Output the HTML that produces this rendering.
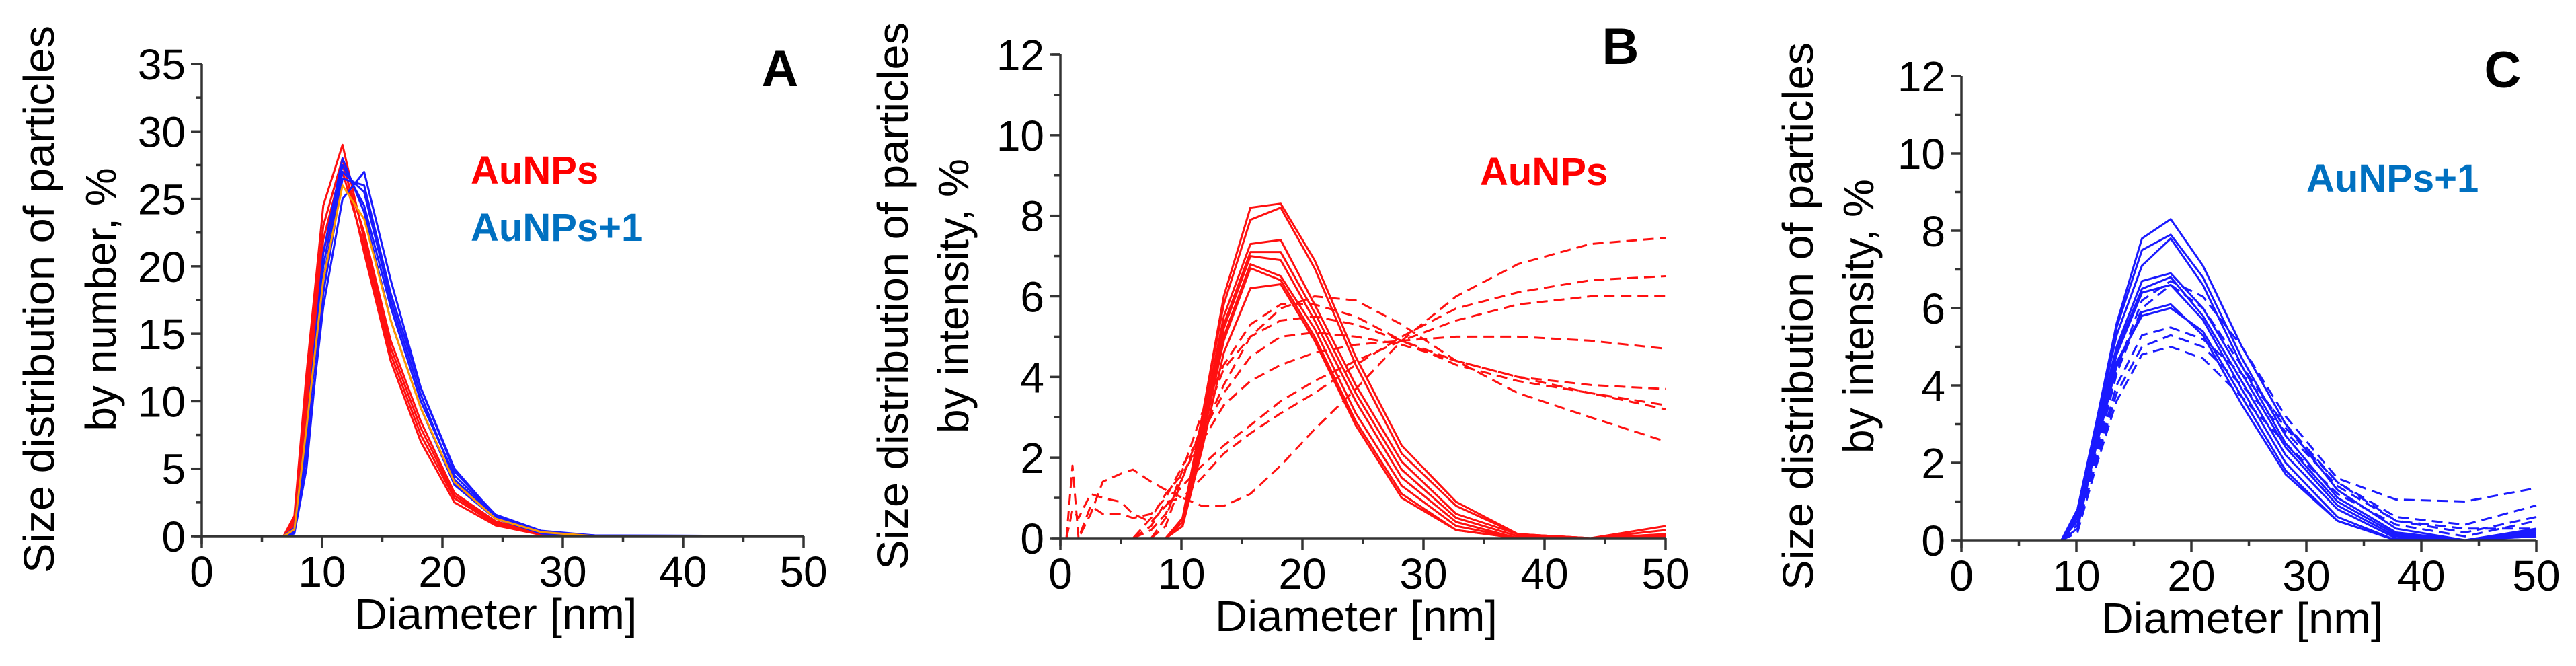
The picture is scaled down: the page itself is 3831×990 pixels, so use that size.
<!DOCTYPE html>
<html><head><meta charset="utf-8"><style>
html,body{margin:0;padding:0;background:#fff;}
svg{display:block;font-family:"Liberation Sans",Arial,sans-serif;}
</style></head><body>
<svg id="fig" width="3831" height="990" viewBox="0 0 3831 990" xmlns="http://www.w3.org/2000/svg"></svg>
<script>
// ---------- Panel A data (number distribution) ----------
const aX = [6.8,7.7,8.7,10.1,11.7,13.5,15.7,18.2,21,24.4,28.2,32.7,50];
const aRed1 = [0,1.5,12,24.5,29,22,14,8,3,1,0.2,0,0];
const aRed2 = [0,1.2,11,23,28,21,13,7,2.5,0.8,0.1,0,0];
const aRed3 = [0,1.0,10,22,27.5,22.5,14.5,8.5,3.2,1.1,0.2,0,0];
const aRed4 = [0,0.8,9,21,27,21.5,13.5,7.5,2.8,0.9,0.1,0,0];
const aOrange = [0,0.5,8,19,26,23.5,16,9.5,4,1.3,0.3,0,0];
const aBlue1 = [0,0.3,6,17,25,27,19,11,5,1.5,0.3,0.05,0];
const aBlue2 = [0,0.6,8,20,27.5,24.5,17,10,4.5,1.5,0.3,0,0];
const aBlue3 = [0,0.4,7,19,27,25.5,17.5,10.5,4.2,1.4,0.3,0,0];
const aBlue4 = [0,0.2,5,18,26.5,26,18,11,4.8,1.6,0.4,0.05,0];
const aBlue5 = [0,0.5,7.5,21,28,24,16,9.5,3.8,1.3,0.2,0,0];
const aYTicks = [0,5,10,15,20,25,30,35];
// ---------- Panel B data (intensity, AuNPs) ----------
const bSX = [8.7,10.1,11.7,13.5,15.7,18.2,21,24.4,28.2,32.7,37.8,43.8,50];
const bS1 = [0,0.5,3,6,8.2,8.3,6.9,4.5,2.3,0.9,0.1,0,0.3];
const bS2 = [0,0.5,3,5.8,7.9,8.2,6.7,4.3,2.1,0.8,0.1,0,0.2];
const bS3 = [0,0.4,2.8,5.5,7.3,7.4,5.8,3.8,1.9,0.6,0.1,0,0.1];
const bS4 = [0,0.4,2.7,5.3,7.1,7.1,5.6,3.6,1.7,0.5,0.05,0,0.1];
const bS5 = [0,0.4,2.6,5.2,7.0,6.9,5.4,3.4,1.5,0.4,0,0,0.05];
const bS6 = [0,0.3,2.5,5.0,6.8,6.5,5.2,3.1,1.3,0.3,0,0,0];
const bS7 = [0,0.3,2.4,4.9,6.7,6.4,5.0,2.9,1.1,0.2,0,0,0];
const bS8 = [0,0.3,2.2,4.6,6.2,6.3,4.9,2.8,1.0,0.2,0,0,0];
const bDX = [0.5,1,1.5,2.5,3.5,5,6,7.5,8.7,10.1,11.7,13.5,15.7,18.2,21,24.4,28.2,32.7,37.8,43.8,50];
const bD1 = [0,0,0,0,0,0,0,0,0.3,1.5,2.6,3.8,5.0,5.7,6.0,5.9,5.3,4.4,3.6,3.0,2.4];
const bD2 = [0,0,0,0,0,0,0,0.2,0.6,1.5,2.8,4.2,5.0,5.4,5.5,5.3,4.9,4.4,4.0,3.6,3.3];
const bD3 = [0,0,0,0,0,0,0,0,0.5,1.7,3.1,4.3,5.3,5.8,5.8,5.5,4.9,4.3,3.9,3.6,3.2];
const bD4 = [0,1.8,0,0.8,0.6,0.6,0.5,0.6,1.0,1.8,2.6,3.6,4.5,5.0,5.1,5.0,4.8,4.4,4.0,3.8,3.7];
const bD5 = [0,0,0,0,0,0,0,0.5,1.1,1.6,2.4,3.3,3.9,4.3,4.6,4.8,4.9,5.0,5.0,4.9,4.7];
const bD6 = [0,0.7,0.5,1.1,1.0,0.9,0.6,0.4,0.8,1.3,1.8,2.3,2.8,3.4,3.9,4.4,4.9,5.4,5.8,6.0,6.0];
const bD7 = [0,0,0,0.6,1.4,1.6,1.7,1.4,1.2,1.0,1.5,2.1,2.6,3.1,3.6,4.3,5.0,5.7,6.1,6.4,6.5];
const bD8 = [0,0,0,0,0,0,0,0.3,0.9,1.0,0.8,0.8,1.1,1.8,2.7,3.7,4.9,6.0,6.8,7.3,7.45];
const intYTicks = [0,2,4,6,8,10,12];
// ---------- Panel C data (intensity, AuNPs+1) ----------
const cX = [0,8,8.7,10.1,11.7,13.5,15.7,18.2,21,24.4,28.2,32.7,37.8,43.8,50];
const cS1 = [0,0,0,0.8,3,5.6,7.8,8.3,7.1,5,3,1.3,0.3,0,0.3];
const cS2 = [0,0,0,0.8,3,5.5,7.5,7.9,6.8,4.7,2.7,1.1,0.2,0,0.25];
const cS3 = [0,0,0,0.7,2.9,5.3,7.1,7.8,6.6,4.5,2.5,1.0,0.15,0,0.2];
const cS4 = [0,0,0,0.6,2.8,5.0,6.7,6.9,6.0,4.3,2.4,0.9,0.1,0,0.15];
const cS5 = [0,0,0,0.6,2.7,4.9,6.5,6.8,5.8,4.1,2.2,0.8,0.05,0,0.1];
const cS6 = [0,0,0,0.5,2.6,4.8,6.4,6.6,5.7,3.9,2.0,0.6,0,0,0.1];
const cS7 = [0,0,0,0.5,2.5,4.6,5.8,6.0,5.4,3.7,1.8,0.5,0,0,0];
const cS8 = [0,0,0,0.3,2.4,4.5,5.9,6.1,5.3,3.5,1.7,0.5,0,0,0];
const cD1 = [0,0,0,0.4,2.3,4.4,6.2,6.7,6.3,5.0,3.2,1.6,1.05,1.0,1.35];
const cD2 = [0,0,0,0.3,2.1,4.0,5.3,5.5,5.2,4.3,3.0,1.5,0.6,0.4,0.9];
const cD3 = [0,0,0,0.3,2.0,3.8,5.0,5.3,5.0,4.0,2.8,1.4,0.5,0.2,0.6];
const cD4 = [0,0,0,0.2,1.9,3.6,4.8,5.0,4.7,3.7,2.5,1.2,0.4,0.1,0.5];
const cD5 = [0,0,0,0.3,2.2,4.3,6.0,6.6,6.0,4.5,2.9,1.5,0.5,0.3,0.3];
const xTicks = [0,10,20,30,40,50];

const NS = "http://www.w3.org/2000/svg";
const svg = document.getElementById('fig');
function mk(tag, attrs, parent){
  const e = document.createElementNS(NS, tag);
  for (const k in attrs) e.setAttribute(k, attrs[k]);
  (parent||svg).appendChild(e);
  return e;
}
function panel(p){
  const g = mk('g', {});
  
  
  const sx = v => p.x0 + (v - 0) / 50 * (p.x1 - p.x0);
  const sy = v => p.y0 - v / p.ymax * (p.y0 - p.y1);
  // series
  p.series.forEach((s, i) => {
    const d = s.y.map((v, j) => (j ? 'L' : 'M') + sx(s.x[j]).toFixed(1) + ' ' + sy(v).toFixed(1)).join(' ');
    const path = mk('path', {d: d, fill: 'none', stroke: s.c, 'stroke-width': 3, 'stroke-linejoin': 'round'}, g);
    if (s.dash) path.setAttribute('stroke-dasharray', '16 9');
    
    
  });
  // axes
  const ax = mk('g', {stroke: '#333', 'stroke-width': 3.5, fill: 'none'}, g);
  
  
  mk('line', {x1: p.x0 - 12, y1: p.y0, x2: p.x1, y2: p.y0}, ax);
  mk('line', {x1: p.x0, y1: p.y0 + 12, x2: p.x0, y2: p.y1}, ax);
  mk('line', {x1: p.x0 - 12, y1: p.y1, x2: p.x0, y2: p.y1}, ax);
  for (let v = 0; v <= 50; v += 5) {
    const major = v % 10 === 0;
    mk('line', {x1: sx(v), y1: p.y0, x2: sx(v), y2: p.y0 + (major ? 18 : 9)}, ax);
  }
  const yt = p.yticks;
  const step = (yt[1] - yt[0]) / 2;
  for (let v = 0; v <= p.ymax + 1e-6; v += step) {
    const major = Math.abs(v / (2 * step) - Math.round(v / (2 * step))) < 1e-6;
    mk('line', {x1: p.x0, y1: sy(v), x2: p.x0 - (major ? 16 : 9), y2: sy(v)}, ax);
  }
  xTicks.forEach(v => {
    const t = mk('text', {x: sx(v), y: p.y0 + 75, 'font-size': 64, 'text-anchor': 'middle', fill: '#000'}, g);
    t.textContent = v;
    
    
  });
  yt.forEach(v => {
    const t = mk('text', {x: p.x0 - 24, y: sy(v) + 23, 'font-size': 64, 'text-anchor': 'end', fill: '#000'}, g);
    t.textContent = v;
    
    
  });
  const xt = mk('text', {x: (p.x0 + p.x1) / 2 - 10, y: p.y0 + 138, 'font-size': 64, 'text-anchor': 'middle', fill: '#000', textLength: 420, lengthAdjust: 'spacingAndGlyphs'}, g);
  xt.textContent = 'Diameter [nm]';
  
  
  const ty1 = mk('text', {transform: 'translate(' + p.t1x + ',' + p.ty + ') rotate(-90)', 'font-size': 64, 'text-anchor': 'middle', fill: '#000', textLength: 814, lengthAdjust: 'spacingAndGlyphs'}, g);
  ty1.textContent = 'Size distribution of particles';
  
  
  const ty2 = mk('text', {transform: 'translate(' + p.t2x + ',' + p.ty2 + ') rotate(-90)', 'font-size': 64, 'text-anchor': 'middle', fill: '#000'}, g);
  ty2.textContent = p.t2;
  
  
  const L = mk('text', {x: p.lx, y: p.ly, 'font-size': 76, 'font-weight': 'bold', fill: '#000', 'text-anchor': 'middle'}, g);
  L.textContent = p.id;
  
  
  p.legend.forEach(l => {
    const t = mk('text', {x: l.x, y: l.y, 'font-size': 58, 'font-weight': 'bold', fill: l.c}, g);
    t.textContent = l.t;
    
    
  });
}
const R = '#ff1010', B = '#1a1aff', O = '#ff9900';
panel({id: 'A', x0: 300, x1: 1195, y0: 797, y1: 95, ymax: 35, yticks: aYTicks,
  t1x: 80, t2x: 172, ty: 445, ty2: 445, t2: 'by number, %', lx: 1160, ly: 128,
  legend: [{t: 'AuNPs', x: 700, y: 273, c: '#ff0000'}, {t: 'AuNPs+1', x: 700, y: 358, c: '#0070c0'}],
  series: [
    {x: aX, y: aRed1, c: R}, {x: aX, y: aRed2, c: R}, {x: aX, y: aRed3, c: R}, {x: aX, y: aRed4, c: R},
    {x: aX, y: aBlue1, c: B}, {x: aX, y: aBlue2, c: B}, {x: aX, y: aBlue3, c: B}, {x: aX, y: aBlue4, c: B},
    {x: aX, y: aBlue5, c: B}, {x: aX, y: aOrange, c: O}
  ]});
panel({id: 'B', x0: 1577, x1: 2477, y0: 800, y1: 81, ymax: 12, yticks: intYTicks,
  t1x: 1350, t2x: 1440, ty: 440, ty2: 440, t2: 'by intensity, %', lx: 2410, ly: 95,
  legend: [{t: 'AuNPs', x: 2201, y: 275, c: '#ff0000'}],
  series: [
    {x: bSX, y: bS1, c: R}, {x: bSX, y: bS2, c: R}, {x: bSX, y: bS3, c: R}, {x: bSX, y: bS4, c: R},
    {x: bSX, y: bS5, c: R}, {x: bSX, y: bS6, c: R}, {x: bSX, y: bS7, c: R}, {x: bSX, y: bS8, c: R},
    {x: bDX, y: bD1, c: R, dash: 1}, {x: bDX, y: bD2, c: R, dash: 1}, {x: bDX, y: bD3, c: R, dash: 1},
    {x: bDX, y: bD4, c: R, dash: 1}, {x: bDX, y: bD5, c: R, dash: 1}, {x: bDX, y: bD6, c: R, dash: 1},
    {x: bDX, y: bD7, c: R, dash: 1}, {x: bDX, y: bD8, c: R, dash: 1}
  ]});
panel({id: 'C', x0: 2917, x1: 3772, y0: 803, y1: 113, ymax: 12, yticks: intYTicks,
  t1x: 2696, t2x: 2786, ty: 470, ty2: 470, t2: 'by intensity, %', lx: 3722, ly: 130,
  legend: [{t: 'AuNPs+1', x: 3430, y: 285, c: '#0070c0'}],
  series: [
    {x: cX, y: cS1, c: B}, {x: cX, y: cS2, c: B}, {x: cX, y: cS3, c: B}, {x: cX, y: cS4, c: B},
    {x: cX, y: cS5, c: B}, {x: cX, y: cS6, c: B}, {x: cX, y: cS7, c: B}, {x: cX, y: cS8, c: B},
    {x: cX, y: cD1, c: B, dash: 1}, {x: cX, y: cD2, c: B, dash: 1}, {x: cX, y: cD3, c: B, dash: 1},
    {x: cX, y: cD4, c: B, dash: 1}, {x: cX, y: cD5, c: B, dash: 1}
  ]});
</script>
</body></html>
